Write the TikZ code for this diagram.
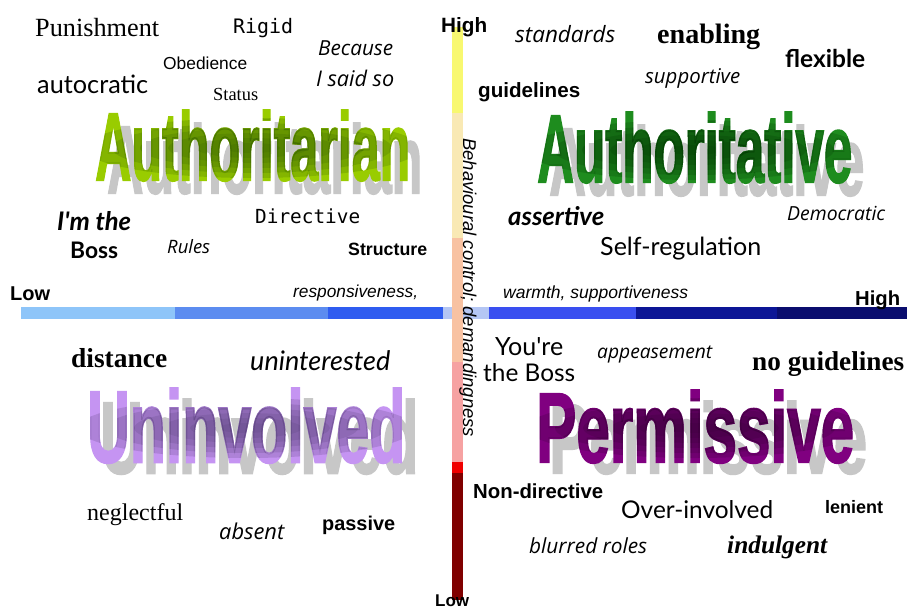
\documentclass[tikz,border=0pt]{standalone}
\usepackage{fontspec}
\setmainfont{Liberation Serif}
\setsansfont{Liberation Sans}
\newfontfamily\handfont{Open Sans}
\newfontfamily\softfont{Lato}
\newfontfamily\typefont{DejaVu Sans Mono}
\newfontfamily\bigfont{Liberation Sans Bold}[FakeBold=2]

\definecolor{hbarA}{HTML}{8EC5F9}
\definecolor{hbarB}{HTML}{5C8CF0}
\definecolor{hbarC}{HTML}{2F5CF0}
\definecolor{hbarD}{HTML}{B4C6F4}
\definecolor{hbarE}{HTML}{3A4FF0}
\definecolor{hbarF}{HTML}{0C1696}
\definecolor{hbarG}{HTML}{0A0D6E}
\definecolor{vbarA}{HTML}{F8F870}
\definecolor{vbarB}{HTML}{F9E9B4}
\definecolor{vbarC}{HTML}{F8C2A2}
\definecolor{vbarD}{HTML}{F6A2A2}
\definecolor{vbarE}{HTML}{F00000}
\definecolor{vbarF}{HTML}{800000}
\definecolor{tarianLight}{HTML}{99CC00}
\definecolor{tarianDark}{HTML}{3A6600}
\definecolor{tativeLight}{HTML}{1E8C1E}
\definecolor{tativeDark}{HTML}{063C06}
\definecolor{involLight}{HTML}{C594F2}
\definecolor{involDark}{HTML}{5E4680}
\definecolor{permLight}{HTML}{800080}
\definecolor{permDark}{HTML}{3A003A}

\newcommand{\fitw}[2]{\resizebox{#1pt}{!}{#2}}
\newcommand{\bigword}[3]{\resizebox{#1pt}{#2pt}{\bigfont #3}}

\begin{document}
\begin{tikzpicture}[
            x=1pt, y=-1pt,
            lbl/.style={inner sep=0pt, anchor=base west},
            word/.style={inner sep=0pt, anchor=north west},
            echo/.style={word, text=black!22},
            glow/.style={word, opacity=0.22, text opacity=0.22}
        ]
            \useasboundingbox (0,0) rectangle (909,608);
            \fill[white] (0,0) rectangle (909,608);

            \foreach \xa/\xb/\c in {21/175/hbarA, 175/328/hbarB, 328/443/hbarC, 443/452/hbarD,
                                    463/489/hbarD, 489/636/hbarE, 636/777/hbarF, 777/907/hbarG}
                \fill[\c] (\xa,307) rectangle (\xb,319);

            \foreach \ya/\yb/\c in {27/113/vbarA, 113/238/vbarB, 238/362/vbarC,
                                    362/462/vbarD, 462/473/vbarE, 473/600/vbarF}
                \fill[\c] (452,\ya) rectangle (463,\yb);

            % big words
            \node[echo] (tarianecho) at (107,123) {\bigword{315}{70}{Authoritarian}};
            \node[word, text=tarianLight] (tarian) at (95,110) {\bigword{315}{70}{Authoritarian}};
            \foreach \k in {1,...,6} {
                \begin{scope}
                    \clip (252,148) ellipse [x radius=28*\k, y radius=5*\k];
                    \node[glow, text=tarianDark] (tarianglow\k) at (95,110) {\bigword{315}{70}{Authoritarian}};
                \end{scope}
            }

            \node[echo] (tativeecho) at (549,125) {\bigword{315}{70}{Authoritative}};
            \node[word, text=tativeLight] (tative) at (537,112) {\bigword{315}{70}{Authoritative}};
            \foreach \k in {1,...,6} {
                \begin{scope}
                    \clip (694,150) ellipse [x radius=28*\k, y radius=5*\k];
                    \node[glow, text=tativeDark] (tativeglow\k) at (537,112) {\bigword{315}{70}{Authoritative}};
                \end{scope}
            }

            \node[echo] (involecho) at (100,399) {\bigword{318}{74}{Uninvolved}};
            \node[word, text=involLight] (invol) at (87,388) {\bigword{318}{74}{Uninvolved}};
            \foreach \k in {1,...,6} {
                \begin{scope}
                    \clip (246,428) ellipse [x radius=28*\k, y radius=5*\k];
                    \node[glow, text=involDark] (involglow\k) at (87,388) {\bigword{318}{74}{Uninvolved}};
                \end{scope}
            }

            \node[echo] (permecho) at (549,401) {\bigword{318}{72}{Permissive}};
            \node[word, text=permLight] (perm) at (536,390) {\bigword{318}{72}{Permissive}};
            \foreach \k in {1,...,6} {
                \begin{scope}
                    \clip (695,428) ellipse [x radius=28*\k, y radius=5*\k];
                    \node[glow, text=permDark] (permglow\k) at (536,390) {\bigword{318}{72}{Permissive}};
                \end{scope}
            }

            % axes
            \node[lbl] (hightop) at (441,32) {\fitw{46}{\sffamily\bfseries High}};
            \node[lbl] (lowbot) at (435,606) {\fitw{34}{\sffamily\bfseries Low}};
            \node[lbl] (lowleft) at (10,300) {\fitw{40}{\sffamily\bfseries Low}};
            \node[lbl] (highright) at (855,305) {\fitw{45}{\sffamily\bfseries High}};
            \node[lbl] (respons) at (293,297) {\fitw{125}{\sffamily\itshape responsiveness,}};
            \node[lbl] (warmth) at (503,298) {\fitw{185}{\sffamily\itshape warmth, supportiveness}};
            \node[lbl, rotate=-90] (control) at (463,138) {\fitw{299}{\sffamily\itshape Behavioural control; demandingness}};

            % authoritarian words
            \node[lbl] (punish) at (35,36) {\fitw{124}{Punishment}};
            \node[lbl] (rigid) at (233,33) {\fitw{60}{\typefont Rigid}};
            \node[lbl] (obey) at (163,69) {\fitw{84}{\sffamily Obedience}};
            \node[lbl] (status) at (213,100) {\fitw{45}{Status}};
            \node[lbl] (autoc) at (37,93) {\fitw{111}{\softfont autocratic}};
            \node[lbl] (because) at (318,55) {\fitw{75}{\handfont\itshape Because}};
            \node[lbl] (isaid) at (316,86) {\fitw{78}{\handfont\itshape I said so}};
            \node[lbl] (imthe) at (57,230) {\fitw{74}{\softfont\bfseries\itshape I'm the}};
            \node[lbl] (boss) at (70,258) {\fitw{48}{\softfont\bfseries Boss}};
            \node[lbl] (rules) at (167,253) {\fitw{43}{\handfont\itshape Rules}};
            \node[lbl] (direct) at (255,223) {\fitw{105}{\typefont Directive}};
            \node[lbl] (struct) at (348,255) {\fitw{79}{\sffamily\bfseries Structure}};

            % authoritative words
            \node[lbl] (stand) at (515,42) {\fitw{100}{\handfont\itshape standards}};
            \node[lbl] (enable) at (657,43) {\fitw{103}{\bfseries enabling}};
            \node[lbl] (flex) at (785,67) {\fitw{80}{\softfont\bfseries flexible}};
            \node[lbl] (support) at (645,83) {\fitw{95}{\handfont\itshape supportive}};
            \node[lbl] (guide) at (478,97) {\fitw{102}{\sffamily\bfseries guidelines}};
            \node[lbl] (assert) at (508,225) {\fitw{96}{\softfont\bfseries\itshape assertive}};
            \node[lbl] (democ) at (787,220) {\fitw{98}{\handfont\itshape Democratic}};
            \node[lbl] (selfreg) at (600,255) {\fitw{161}{\softfont Self-regulation}};

            % uninvolved words
            \node[lbl] (dist) at (71,367) {\fitw{96}{\bfseries distance}};
            \node[lbl] (uninter) at (250,370) {\fitw{140}{\softfont\itshape uninterested}};
            \node[lbl] (neglect) at (87,520) {\fitw{96}{neglectful}};
            \node[lbl] (absent) at (219,539) {\fitw{65}{\handfont\itshape absent}};
            \node[lbl] (passive) at (322,530) {\fitw{73}{\sffamily\bfseries passive}};

            % permissive words
            \node[lbl] (youre) at (495,355) {\fitw{68}{\softfont You're}};
            \node[lbl] (theboss) at (483,381) {\fitw{92}{\softfont the Boss}};
            \node[lbl] (appease) at (597,358) {\fitw{115}{\handfont\itshape appeasement}};
            \node[lbl] (noguide) at (752,370) {\fitw{152}{\bfseries no guidelines}};
            \node[lbl] (nondir) at (473,498) {\fitw{130}{\sffamily\bfseries Non-directive}};
            \node[lbl] (overinv) at (621,518) {\fitw{152}{\softfont Over-involved}};
            \node[lbl] (lenient) at (825,513) {\fitw{58}{\sffamily\bfseries lenient}};
            \node[lbl] (blurred) at (529,553) {\fitw{118}{\handfont\itshape blurred roles}};
            \node[lbl] (indulg) at (727,553) {\fitw{100}{\bfseries\itshape indulgent}};

        \end{tikzpicture}
\end{document}
